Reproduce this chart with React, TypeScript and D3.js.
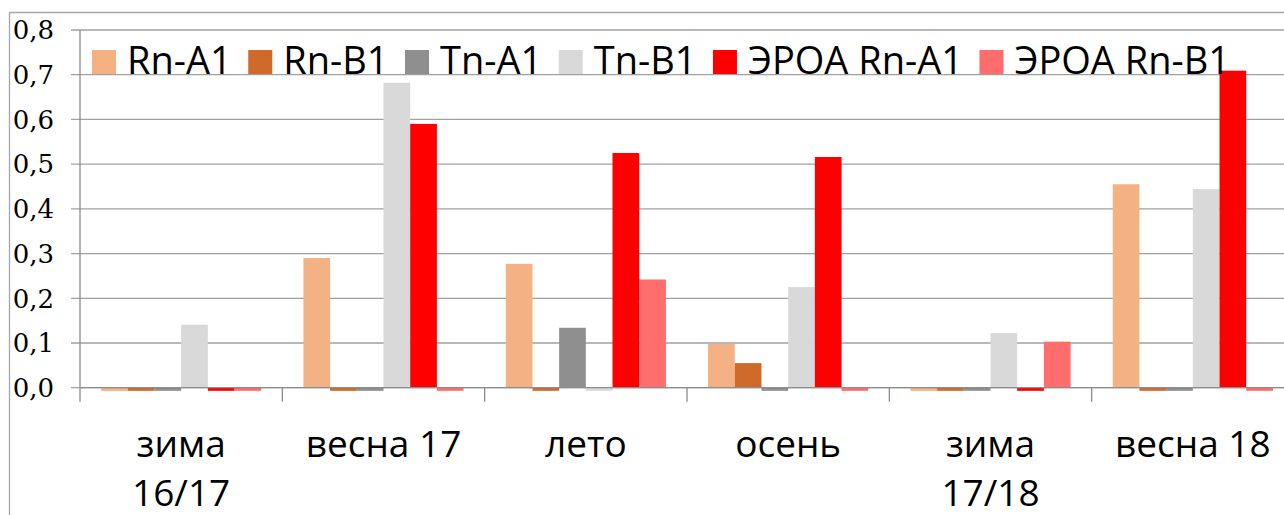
import React from "react";
import * as d3 from "d3";

// seasons (line breaks as in the original axis)
const categories = ["зима\n16/17", "весна 17", "лето", "осень", "зима\n17/18", "весна 18"];

const seriesNames = ["Rn-A1", "Rn-B1", "Tn-A1", "Tn-B1", "ЭРОА Rn-A1", "ЭРОА Rn-B1"];
const seriesColors = ["#F4B183", "#D06A2B", "#8F8F8F", "#D9D9D9", "#FF0000", "#FF6D6D"];

// values per series, one per season
const rnA1 = [-0.007, 0.29, 0.277, 0.098, -0.007, 0.455];
const rnB1 = [-0.007, -0.007, -0.007, 0.055, -0.007, -0.007];
const tnA1 = [-0.007, -0.007, 0.134, -0.007, -0.007, -0.007];
const tnB1 = [0.141, 0.682, -0.007, 0.225, 0.122, 0.444];
const eroaRnA1 = [-0.007, 0.59, 0.525, 0.516, -0.007, 0.709];
const eroaRnB1 = [-0.007, -0.007, 0.242, -0.007, 0.103, -0.007];

const yTicks = [0, 0.1, 0.2, 0.3, 0.4, 0.5, 0.6, 0.7, 0.8];

const W = 1284;
const H = 515;
const sansFont = "'Open Sans', 'Noto Sans', sans-serif";
const serifFont = "'DejaVu Serif', serif";

function textWidth(txt: string, font: string) {
  const c = document.createElement("canvas").getContext("2d");
  if (!c) return txt.length * 18;
  c.font = font;
  return c.measureText(txt).width;
}

export default function App() {
  const seriesValues = [rnA1, rnB1, tnA1, tnB1, eroaRnA1, eroaRnB1];

  const margin = { left: 80, top: 30, right: -10, bottom: 127.3 };
  const plotRight = W - margin.right; // axis runs past the window edge
  const zeroY = H - margin.bottom;

  const x0 = d3.scaleBand<string>().domain(categories).range([margin.left, plotRight]).padding(0);
  const x1 = d3
    .scaleBand<string>()
    .domain(seriesNames)
    .range([0, x0.bandwidth()])
    .paddingInner(0)
    .paddingOuter(0.79);
  const y = d3.scaleLinear().domain([0, 0.8]).range([zeroY, margin.top]);
  const fmt = (v: number) => d3.format(".1f")(v).replace(".", ",");

  // legend layout
  const legendSize = 38;
  const legendFont = `${legendSize}px ${sansFont}`;
  let lx = 92;
  const legendItems = seriesNames.map((name, i) => {
    const item = { name, color: seriesColors[i], x: lx };
    lx += 24 + 11 + textWidth(name, legendFont) + 16.5;
    return item;
  });

  return (
    <svg
      width={W}
      height={H}
      style={{ position: "absolute", left: 0, top: 0, background: "#fff" }}
    >
      {/* chart area border */}
      <path d={`M9.5,${H + 5}V12.5H${W + 5}`} fill="none" stroke="#a6a6a6" strokeWidth={1.3} />

      {/* gridlines + y labels */}
      {yTicks.map((t) => (
        <g key={t}>
          <line x1={71} x2={plotRight} y1={y(t)} y2={y(t)} stroke="#a0a0a0" strokeWidth={1.3} />
          <text
            x={54}
            y={y(t)}
            dy="0.36em"
            textAnchor="end"
            fontFamily={serifFont}
            fontSize={26}
            fill="#000"
          >
            {fmt(t)}
          </text>
        </g>
      ))}

      {/* bars */}
      {categories.map((cat, ci) => (
        <g key={cat} transform={`translate(${x0(cat)},0)`}>
          {seriesNames.map((s, si) => {
            const v = seriesValues[si][ci];
            return (
              <rect
                key={s}
                x={x1(s)}
                y={Math.min(y(v), y(0))}
                width={x1.bandwidth()}
                height={Math.abs(y(v) - y(0))}
                fill={seriesColors[si]}
              />
            );
          })}
        </g>
      ))}

      {/* axes */}
      <line x1={margin.left} x2={margin.left} y1={margin.top} y2={zeroY + 14} stroke="#8c8c8c" strokeWidth={1.3} />
      <line x1={margin.left} x2={plotRight} y1={zeroY} y2={zeroY} stroke="#8c8c8c" strokeWidth={1.3} />
      {categories.map((cat) => (
        <line
          key={"t" + cat}
          x1={(x0(cat) ?? 0) + x0.bandwidth()}
          x2={(x0(cat) ?? 0) + x0.bandwidth()}
          y1={zeroY}
          y2={zeroY + 14}
          stroke="#8c8c8c"
          strokeWidth={1.3}
        />
      ))}

      {/* category labels */}
      {categories.map((cat) => (
        <text
          key={"l" + cat}
          x={(x0(cat) ?? 0) + x0.bandwidth() / 2}
          y={457}
          textAnchor="middle"
          fontFamily={sansFont}
          fontSize={37}
          fill="#000"
        >
          {cat.split("\n").map((line, li) => (
            <tspan key={li} x={(x0(cat) ?? 0) + x0.bandwidth() / 2} dy={li === 0 ? 0 : 49}>
              {line}
            </tspan>
          ))}
        </text>
      ))}

      {/* legend */}
      {legendItems.map((it) => (
        <g key={it.name}>
          <rect x={it.x} y={50} width={24} height={24} fill={it.color} />
          <text x={it.x + 35} y={74} fontFamily={sansFont} fontSize={legendSize} fill="#000">
            {it.name}
          </text>
        </g>
      ))}
    </svg>
  );
}
